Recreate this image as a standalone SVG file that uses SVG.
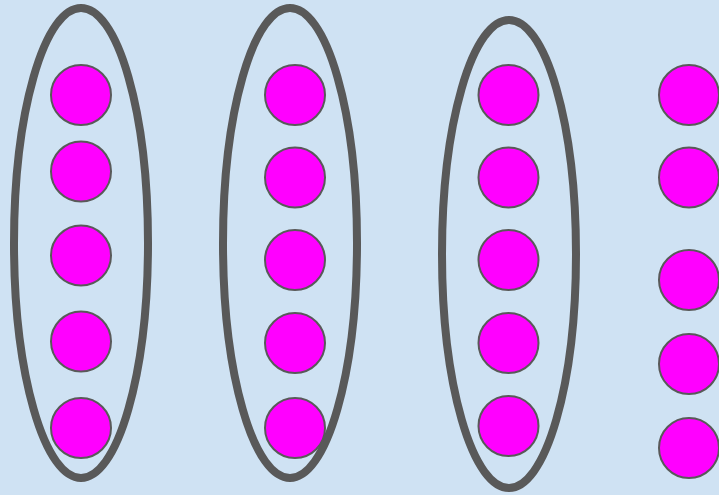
<svg xmlns="http://www.w3.org/2000/svg" width="719" height="495" viewBox="0 0 719 495">
<style>
.grp{fill:none;stroke:#595959;stroke-width:8}
.n{fill:#ff00ff;stroke:#595959;stroke-width:2}
</style>
<rect width="719" height="495" fill="#cfe2f3"/>
<g id="group1"><ellipse class="grp" cx="81" cy="243" rx="67" ry="235"/></g>
<g id="group2"><ellipse class="grp" cx="290" cy="243" rx="67" ry="235"/></g>
<g id="group3"><ellipse class="grp" cx="509" cy="254" rx="67" ry="234"/></g>
<g id="n1_1"><circle class="n" cx="81" cy="95" r="30"/></g>
<g id="n1_2"><circle class="n" cx="81" cy="171.5" r="30"/></g>
<g id="n1_3"><circle class="n" cx="81" cy="255.5" r="30"/></g>
<g id="n1_4"><circle class="n" cx="81" cy="341.5" r="30"/></g>
<g id="n1_5"><circle class="n" cx="81" cy="428" r="30"/></g>
<g id="n2_1"><circle class="n" cx="295" cy="95" r="30"/></g>
<g id="n2_2"><circle class="n" cx="295" cy="177.5" r="30"/></g>
<g id="n2_3"><circle class="n" cx="295" cy="260" r="30"/></g>
<g id="n2_4"><circle class="n" cx="295" cy="343" r="30"/></g>
<g id="n2_5"><circle class="n" cx="295" cy="428" r="30"/></g>
<g id="n3_1"><circle class="n" cx="508.5" cy="95" r="30"/></g>
<g id="n3_2"><circle class="n" cx="508.5" cy="177.5" r="30"/></g>
<g id="n3_3"><circle class="n" cx="508.5" cy="260" r="30"/></g>
<g id="n3_4"><circle class="n" cx="508.5" cy="343" r="30"/></g>
<g id="n3_5"><circle class="n" cx="508.5" cy="426" r="30"/></g>
<g id="n4_1"><circle class="n" cx="689" cy="95" r="30"/></g>
<g id="n4_2"><circle class="n" cx="689" cy="177.5" r="30"/></g>
<g id="n4_3"><circle class="n" cx="689" cy="280" r="30"/></g>
<g id="n4_4"><circle class="n" cx="689" cy="364" r="30"/></g>
<g id="n4_5"><circle class="n" cx="689" cy="448" r="30"/></g>
<g id="connectors"></g>
</svg>
